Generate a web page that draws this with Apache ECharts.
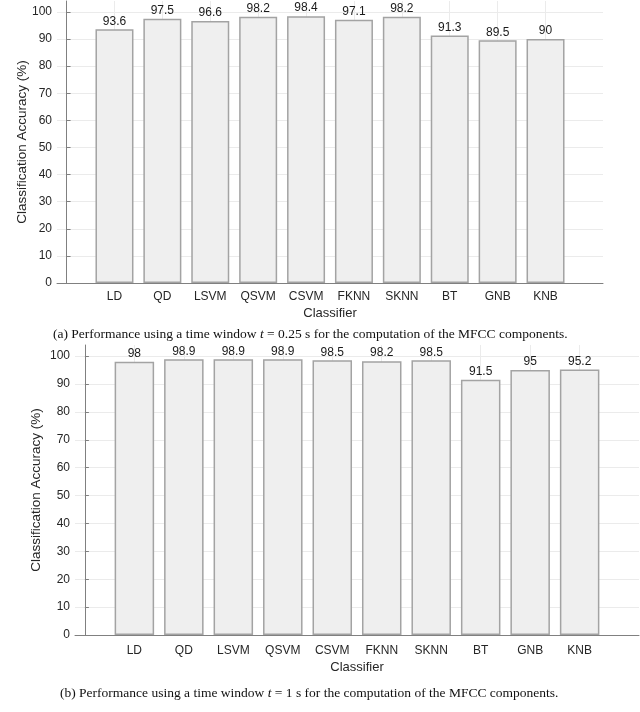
<!DOCTYPE html>
<html><head><meta charset="utf-8">
<script src="https://cdn.jsdelivr.net/npm/echarts@6/dist/echarts.min.js"></script>
<style>html,body{margin:0;padding:0;background:#fff}#c{width:640px;height:712px}</style>
</head><body><div id="c"></div>
<script>
const categories = ['LD','QD','LSVM','QSVM','CSVM','FKNN','SKNN','BT','GNB','KNB'];
const accuracyA = [93.6, 97.5, 96.6, 98.2, 98.4, 97.1, 98.2, 91.3, 89.5, 90];
const accuracyB = [98, 98.9, 98.9, 98.9, 98.5, 98.2, 98.5, 91.5, 95, 95.2];
const yTicks = [0,10,20,30,40,50,60,70,80,90,100];
const positions = categories.map((c,i)=>i+1);

const font = 'Liberation Sans, Arial, sans-serif';
const serif = 'Liberation Serif, Times New Roman, serif';
const chart = echarts.init(document.getElementById('c'));

function xAxis(gi, margin, gap){
  return {
    type:'value', gridIndex:gi, min:-0.2, max:11.2,
    name:'Classifier', nameLocation:'middle', nameGap:gap,
    nameTextStyle:{color:'#262626', fontSize:13, fontFamily:font},
    axisLine:{show:true, onZero:false, lineStyle:{color:'#808080', width:1}},
    axisTick:{show:true, inside:true, length:4, customValues:positions, lineStyle:{color:'#808080'}},
    axisLabel:{customValues:positions, color:'#262626', fontSize:12, fontFamily:font, margin:margin,
      formatter:v=>categories[Math.round(v)-1]||''},
    splitLine:{show:true, lineStyle:{color:'#ebebeb', width:1}}
  };
}
function yAxis(gi, gap){
  return {
    type:'value', gridIndex:gi, min:0, max:104,
    name:'Classification Accuracy (%)', nameLocation:'middle', nameGap:gap, nameRotate:90,
    nameMoveOverlap:false,
    nameTextStyle:{color:'#262626', fontSize:13.5, fontFamily:font},
    axisLine:{show:true, lineStyle:{color:'#808080', width:1}},
    axisTick:{show:true, inside:true, length:4, customValues:yTicks, lineStyle:{color:'#808080'}},
    axisLabel:{customValues:yTicks, color:'#262626', fontSize:12, fontFamily:font, margin:5},
    splitLine:{show:true, lineStyle:{color:'#ebebeb', width:1}}
  };
}
function barSeries(gi, vals, w){
  return {
    type:'bar', xAxisIndex:gi, yAxisIndex:gi, barWidth:w,
    data: vals.map((v,i)=>[positions[i], v]),
    itemStyle:{color:'#efefef', borderColor:'#a3a3a3', borderWidth:1.5},
    label:{show:true, position:'top', distance:2, color:'#1a1a1a', fontSize:12, fontFamily:font,
      formatter:p=>String(p.value[1])},
    silent:true, animation:false
  };
}
const capStyle = {fontFamily:serif, fontSize:13.5, fontWeight:'normal', color:'#111',
  rich:{i:{fontStyle:'italic', fontFamily:serif, fontSize:13.5, color:'#111'}}};
chart.setOption({
  animation:false,
  title:[
    {text:'(a) Performance using a time window {i|t} = 0.25 s for the computation of the MFCC components.',
     left:48, top:322, textStyle:capStyle},
    {text:'(b) Performance using a time window {i|t} = 1 s for the computation of the MFCC components.',
     left:55, top:681, textStyle:capStyle}
  ],
  grid:[
    {left:57, right:37, top:1, height:282},
    {left:75, right:1, top:345, height:290}
  ],
  xAxis:[xAxis(0, 8, 24), xAxis(1, 10, 26)],
  yAxis:[yAxis(0,28), yAxis(1,32)],
  series:[barSeries(0, accuracyA, 38), barSeries(1, accuracyB, 39.5)]
});
</script></body></html>
